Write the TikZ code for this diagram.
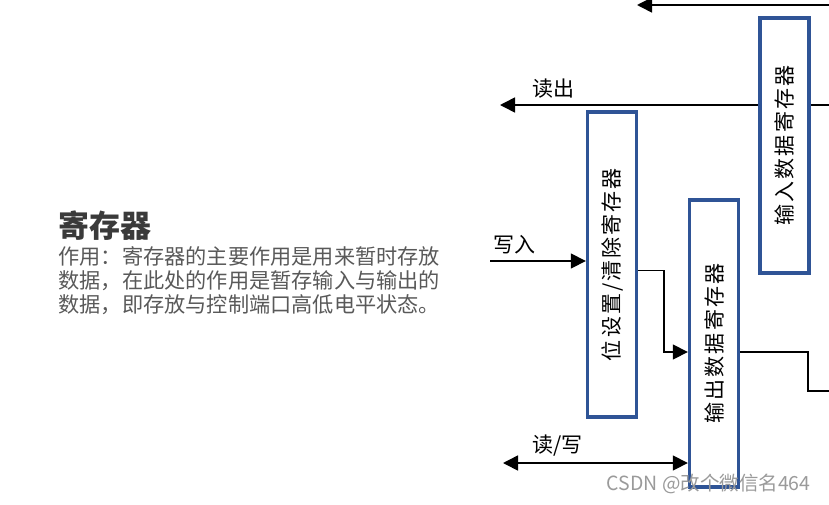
\documentclass[tikz,border=0pt]{standalone}
\usepackage{fontspec}
\setmainfont{Noto Sans CJK SC}
\usetikzlibrary{arrows.meta,positioning,calc}
\definecolor{regblue}{HTML}{2F5496}
\definecolor{titlegray}{HTML}{3A3A3A}
\definecolor{bodygray}{HTML}{595959}
\definecolor{markgray}{HTML}{9A9A9A}

\begin{document}
\begin{tikzpicture}[x=1pt,y=-1pt,
    regbox/.style={draw=regblue,line width=3.4pt,fill=white,minimum width=49pt,inner sep=0pt},
    regtext/.style={rotate=90,font=\fontsize{21}{23}\selectfont\addfontfeatures{LetterSpace=10}},
    sig/.style={line width=1.6pt,black},
    tip/.style={-{Triangle[length=15pt,width=15pt]}},
    lbl/.style={font=\fontsize{21}{23}\selectfont}]
    \useasboundingbox (0,0) rectangle (829,504);
    % left description
    \node[anchor=west,titlegray,font=\fontsize{31}{33}\selectfont\bfseries] (title) at (55,226) {寄存器};
    \node[anchor=north west,bodygray,align=left,font=\fontsize{21.2}{24}\selectfont] (desc) at (55,243)
      {作用：寄存器的主要作用是用来暂时存放\\数据，在此处的作用是暂存输入与输出的\\数据，即存放与控制端口高低电平状态。};
    % signal lines behind the boxes
    \coordinate (topR) at (829,5);
    \coordinate (topL) at (637,5);
    \draw[sig,tip] (topR) -- (topL);
    \coordinate (rdR) at (829,105);
    \coordinate (rdL) at (500,105);
    \draw[sig,tip] (rdR) -- (rdL);
    \node[lbl,above right=3pt and 29pt of rdL] (rdlbl) {读出};
    % registers
    \node[regbox,minimum height=255pt] (inreg) at (784.5,145.5) {};
    \node[regtext] (intext) at (inreg) {输入数据寄存器};
    \node[regbox,minimum height=305pt] (bitreg) at (612,264.5) {};
    \node[regtext] (bittext) at (bitreg) {位设置/清除寄存器};
    \node[regbox,minimum height=287pt] (outreg) at (714,343.5) {};
    \node[regtext] (outtext) at (outreg) {输出数据寄存器};
    % write in
    \coordinate (wrL) at (490,261);
    \draw[sig,tip] (wrL) -- (wrL -| bitreg.west);
    \node[lbl,above right=3pt and 0pt of wrL] (wrlbl) {写入};
    % bit register to output register
    \coordinate (b1) at ($(bitreg.east)+(0,6)$);
    \coordinate (o1) at ($(outreg.west)+(0,8.5)$);
    \draw[sig,tip] (b1) -- ++(26,0) |- (o1);
    % output register out
    \coordinate (o2) at ($(outreg.east)+(0,8.5)$);
    \coordinate (outR) at (829,391);
    \draw[sig] (o2) -- (808,0 |- o2) |- (outR);
    % read / write
    \coordinate (rwL) at (503,463);
    \draw[sig,{Triangle[length=15pt,width=15pt]}-{Triangle[length=15pt,width=15pt]}] (rwL) -- (rwL -| outreg.west);
    \node[lbl,above right=3pt and 26pt of rwL] (rwlbl) {读/写};
    % watermark
    \node[anchor=east,markgray,font=\fontsize{19.5}{22}\selectfont] (mark) at (814,484) {CSDN @改个微信名464};
\end{tikzpicture}
\end{document}
